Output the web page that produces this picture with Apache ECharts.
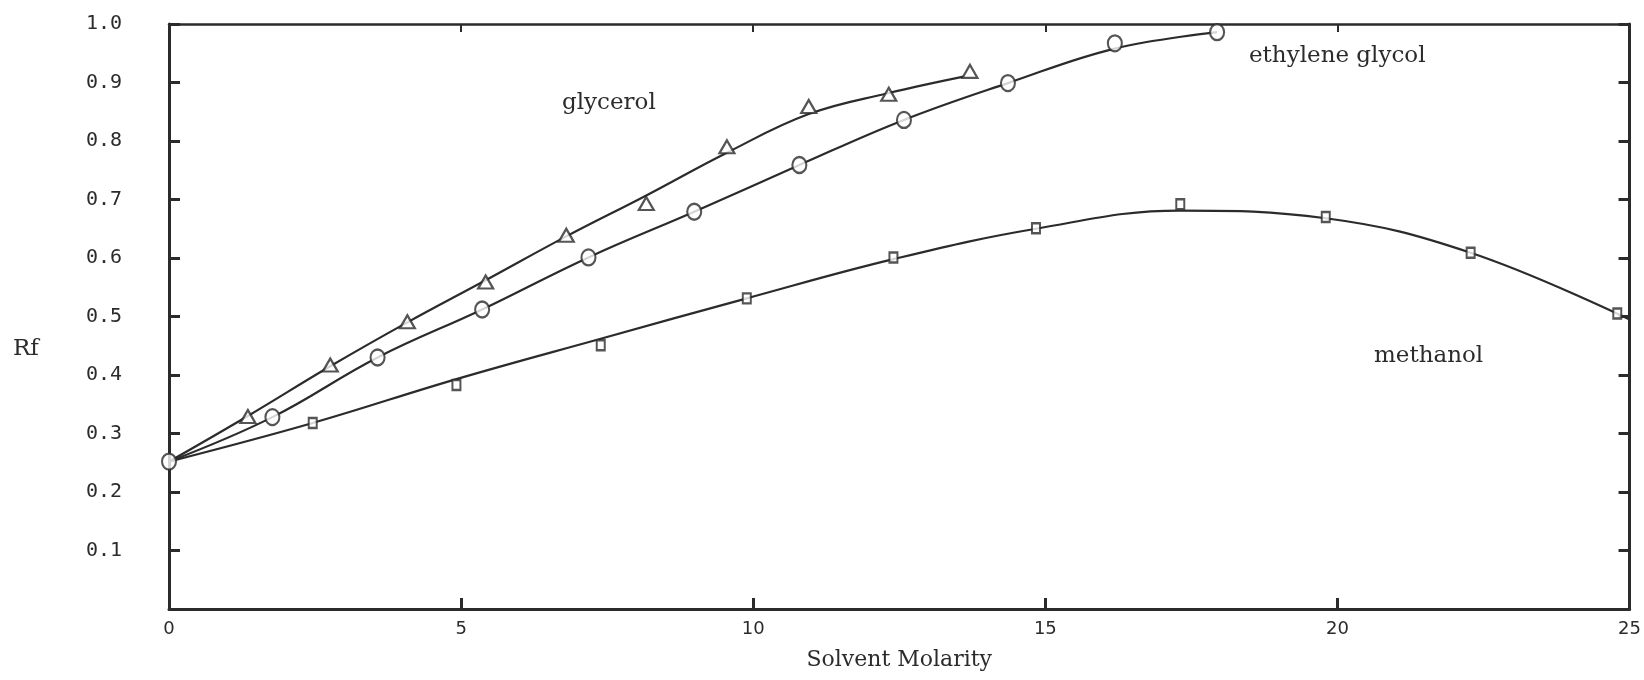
<!DOCTYPE html>
<html>
<head>
<meta charset="utf-8">
<script src="https://cdn.jsdelivr.net/npm/echarts@6/dist/echarts.min.js"></script>
<style>
  html, body { margin: 0; padding: 0; background: #ffffff; }
  #chart { width: 1644px; height: 680px; }
</style>
</head>
<body>
<div id="chart"></div>
<script>
// ---- data ----
const glycerolX  = [1.35, 2.76, 4.08, 5.42, 6.80, 8.17, 9.55, 10.95, 12.32, 13.71];
const glycerolRf = [0.329, 0.417, 0.491, 0.559, 0.639, 0.693, 0.790, 0.859, 0.880, 0.919];

const ethyleneX  = [0, 1.77, 3.57, 5.36, 7.18, 8.99, 10.79, 12.58, 14.36, 16.19, 17.94];
const ethyleneRf = [0.252, 0.328, 0.430, 0.512, 0.601, 0.679, 0.759, 0.836, 0.899, 0.967, 0.986];

const methanolX  = [2.46, 4.92, 7.39, 9.89, 12.40, 14.84, 17.31, 19.80, 22.28, 24.79];
const methanolRf = [0.318, 0.383, 0.451, 0.531, 0.601, 0.651, 0.692, 0.670, 0.609, 0.505];

// fitted curves
const glycerolCurveX  = [0, 1.35, 2.76, 4.08, 5.42, 6.80, 8.17, 9.55, 10.95, 12.32, 13.60];
const glycerolCurveRf = [0.252, 0.330, 0.415, 0.490, 0.562, 0.637, 0.707, 0.780, 0.846, 0.882, 0.910];

const ethyleneCurveX  = [0, 1.77, 3.57, 5.36, 7.18, 8.99, 10.79, 12.58, 14.36, 16.19, 17.94];
const ethyleneCurveRf = [0.252, 0.328, 0.430, 0.512, 0.601, 0.679, 0.759, 0.836, 0.899, 0.958, 0.986];

const methanolCurveX  = [0, 2.46, 4.92, 7.39, 9.89, 12.40, 14.84, 17.31, 19.80, 22.28, 25];
const methanolCurveRf = [0.252, 0.318, 0.393, 0.462, 0.531, 0.598, 0.650, 0.681, 0.668, 0.609, 0.495];

const seriesNames = ['glycerol', 'ethylene glycol', 'methanol'];
const xAxisTitle = 'Solvent Molarity';
const yAxisTitle = 'Rf';

// ---- helpers ----
const zip = (xs, ys) => xs.map((x, i) => [x, ys[i]]);
const INK = '#2b2b2b';
const serif = '"DejaVu Serif", serif';

const chart = echarts.init(document.getElementById('chart'));

const curveStyle = { color: INK, width: 2.2 };
const markerStyle = { color: '#ffffff', borderColor: INK, borderWidth: 2.2 };

const option = {
  backgroundColor: '#ffffff',
  animation: false,
  grid: { left: 169, right: 13, top: 24, bottom: 71 },
  xAxis: [
    {
      type: 'value', min: 0, max: 25, interval: 5, position: 'bottom',
      name: xAxisTitle, nameLocation: 'middle', nameGap: 40,
      nameTextStyle: { fontFamily: serif, fontSize: 22, color: INK },
      axisLine: { show: true, onZero: false, lineStyle: { color: INK, width: 3 } },
      axisTick: { show: true, inside: true, length: 11, lineStyle: { color: INK, width: 3 } },
      axisLabel: { margin: 11, fontFamily: '"DejaVu Sans", sans-serif', fontSize: 18, color: INK },
      splitLine: { show: false }
    },
    {
      type: 'value', min: 0, max: 25, interval: 5, position: 'top',
      axisLine: { show: true, onZero: false, lineStyle: { color: INK, width: 2.5 } },
      axisTick: { show: true, inside: true, length: 8, lineStyle: { color: INK, width: 2 } },
      axisLabel: { show: false },
      splitLine: { show: false }
    }
  ],
  yAxis: [
    {
      type: 'value', min: 0, max: 1, interval: 0.1, position: 'left',
      axisLine: { show: true, onZero: false, lineStyle: { color: INK, width: 3 } },
      axisTick: { show: true, inside: true, length: 11, lineStyle: { color: INK, width: 3 } },
      axisLabel: {
        margin: 47, fontFamily: '"DejaVu Sans Mono", monospace', fontSize: 20, color: INK,
        formatter: v => (v === 0 ? '' : v.toFixed(1))
      },
      splitLine: { show: false }
    },
    {
      type: 'value', min: 0, max: 1, interval: 0.1, position: 'right',
      axisLine: { show: true, onZero: false, lineStyle: { color: INK, width: 3 } },
      axisTick: { show: true, inside: true, length: 11, lineStyle: { color: INK, width: 3 } },
      axisLabel: { show: false },
      splitLine: { show: false }
    }
  ],
  series: [
    { name: seriesNames[2] + ' curve', type: 'line', data: zip(methanolCurveX, methanolCurveRf),
      smooth: 0.4, showSymbol: false, lineStyle: curveStyle, z: 2 },
    { name: seriesNames[1] + ' curve', type: 'line', data: zip(ethyleneCurveX, ethyleneCurveRf),
      smooth: 0.4, showSymbol: false, lineStyle: curveStyle, z: 2 },
    { name: seriesNames[0] + ' curve', type: 'line', data: zip(glycerolCurveX, glycerolCurveRf),
      smooth: 0.4, showSymbol: false, lineStyle: curveStyle, z: 2 },
    { name: seriesNames[2], type: 'scatter', data: zip(methanolX, methanolRf),
      symbol: 'rect', symbolSize: [8, 10], itemStyle: markerStyle, z: 3 },
    { name: seriesNames[1], type: 'scatter', data: zip(ethyleneX, ethyleneRf),
      symbol: 'circle', symbolSize: [14, 16], itemStyle: markerStyle, z: 3 },
    { name: seriesNames[0], type: 'scatter', data: zip(glycerolX, glycerolRf),
      symbol: 'triangle', symbolSize: [15, 13], itemStyle: markerStyle, z: 3 }
  ],
  graphic: [
    { type: 'text', left: 562, top: 92, style: { text: seriesNames[0], font: '23px "DejaVu Serif"', fill: INK } },
    { type: 'text', left: 1249, top: 45, style: { text: seriesNames[1], font: '23px "DejaVu Serif"', fill: INK } },
    { type: 'text', left: 1374, top: 345, style: { text: seriesNames[2], font: '23px "DejaVu Serif"', fill: INK } },
    { type: 'text', left: 13, top: 338, style: { text: yAxisTitle, font: '23px "DejaVu Serif"', fill: INK } }
  ]
};

chart.setOption(option);
</script>
</body>
</html>
